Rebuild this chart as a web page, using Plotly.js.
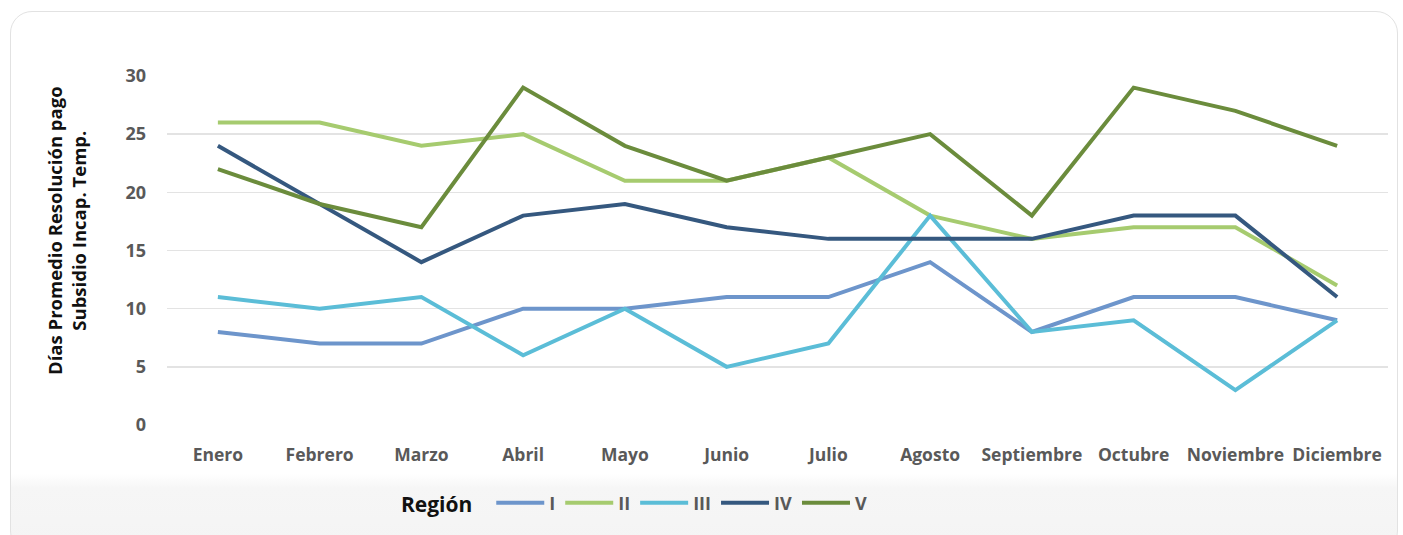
<!DOCTYPE html>
<html>
<head>
<meta charset="utf-8">
<script src="https://cdn.plot.ly/plotly-3.0.1.min.js"></script>
<style>
  html, body { margin:0; padding:0; background:#ffffff; width:1403px; height:535px; overflow:hidden; }
  #card { position:absolute; left:10px; top:11px; width:1386px; height:540px; border:1.5px solid #e2e2e2; border-radius:22px;
          background: linear-gradient(to bottom, #ffffff 0px, #ffffff 462px, #f6f6f6 476px, #f4f4f4 540px); }
  #chart { position:absolute; left:0; top:0; width:1403px; height:535px; }
</style>
</head>
<body>
<div id="card"></div>
<div id="chart"></div>
<script>
const months = ["Enero","Febrero","Marzo","Abril","Mayo","Junio","Julio","Agosto","Septiembre","Octubre","Noviembre","Diciembre"];
const regionI   = [8, 7, 7, 10, 10, 11, 11, 14, 8, 11, 11, 9];
const regionII  = [26, 26, 24, 25, 21, 21, 23, 18, 16, 17, 17, 12];
const regionIII = [11, 10, 11, 6, 10, 5, 7, 18, 8, 9, 3, 9];
const regionIV  = [24, 19, 14, 18, 19, 17, 16, 16, 16, 18, 18, 11];
const regionV   = [22, 19, 17, 29, 24, 21, 23, 25, 18, 29, 27, 24];
const seriesNames = ["I","II","III","IV","V"];
const seriesColors = ["#6d95cb","#a6cb6f","#5bbdd7","#35587f","#6b8c3c"];
const seriesData = [regionI, regionII, regionIII, regionIV, regionV];
const yTitle = "Días Promedio Resolución pago<br>Subsidio Incap. Temp.";

const traces = seriesData.map((vals, i) => ({
  x: months, y: vals, type: "scatter", mode: "lines", name: seriesNames[i],
  line: { color: seriesColors[i], width: 4 }
}));

const FONT = "'Open Sans', 'DejaVu Sans', sans-serif";
const layout = {
  width: 1403, height: 535,
  margin: { l: 167, r: 15, t: 76, b: 110 },
  paper_bgcolor: "rgba(0,0,0,0)", plot_bgcolor: "rgba(0,0,0,0)",
  font: { family: FONT, color: "#595959" },
  xaxis: {
    type: "category", range: [-0.5, 11.5], showgrid: false, zeroline: false, showline: false,
    ticks: "", tickfont: { size: 17.5, weight: "bold", color: "#595959", family: FONT }, ticklabelstandoff: 17
  },
  yaxis: {
    range: [0, 30], tickvals: [0,5,10,15,20,25,30], showgrid: true, gridcolor: "#e3e3e3", gridwidth: 1.5,
    zeroline: false, showline: false, ticks: "", ticklabelstandoff: 20,
    tickfont: { size: 18, weight: "bold", color: "#595959", family: FONT }
  },
  annotations: [{
    text: yTitle, textangle: -90, showarrow: false,
    xref: "paper", yref: "paper", x: (66 - 167) / 1221, y: (425 - 231) / 349,
    xanchor: "center", yanchor: "middle",
    font: { size: 18.5, weight: "bold", color: "#111111", family: FONT }
  }],
  showlegend: true,
  legend: {
    orientation: "h", x: 0.19, xanchor: "left", y: -0.225, yanchor: "middle",
    bgcolor: "rgba(0,0,0,0)",
    title: { text: "Región  ", side: "left", font: { size: 21, weight: "bold", color: "#111111", family: FONT } },
    font: { size: 18, weight: "bold", color: "#595959", family: FONT },
    itemwidth: 48, tracegroupgap: 0
  }
};

Plotly.newPlot("chart", traces, layout, { displayModeBar: false, staticPlot: true });
</script>
</body>
</html>
